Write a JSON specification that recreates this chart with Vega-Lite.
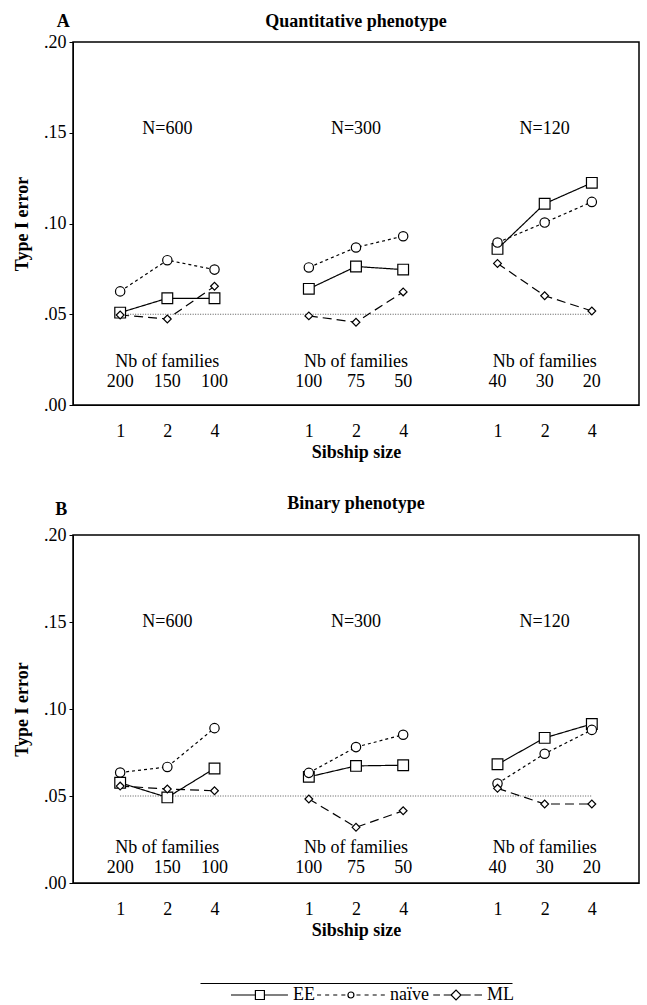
{
  "$schema": "https://vega.github.io/schema/vega-lite/v6.json",
  "padding": {"left": 12, "top": 12, "right": 0, "bottom": 0},
  "bounds": "flush",
  "center": true,
  "spacing": 130,
  "resolve": {"scale": {"x": "independent", "y": "independent", "shape": "independent", "size": "independent", "strokeDash": "independent"}},
  "config": {
    "font": "Liberation Serif",
    "view": {"stroke": "#000", "strokeWidth": 1.5},
    "axis": {"labelFont": "Liberation Serif", "titleFont": "Liberation Serif", "labelFontSize": 18, "titleFontSize": 18, "titleFontWeight": "bold", "labelColor": "#000", "titleColor": "#000", "domainColor": "#000", "tickColor": "#000", "grid": false}
  },
  "datasets": {
    "ptsA": [
      {"method": "EE", "n": 600, "slot": "600-1", "value": 0.0509},
      {"method": "EE", "n": 600, "slot": "600-2", "value": 0.0588},
      {"method": "EE", "n": 600, "slot": "600-4", "value": 0.0588},
      {"method": "EE", "n": 300, "slot": "300-1", "value": 0.064},
      {"method": "EE", "n": 300, "slot": "300-2", "value": 0.0763},
      {"method": "EE", "n": 300, "slot": "300-4", "value": 0.0746},
      {"method": "EE", "n": 120, "slot": "120-1", "value": 0.086},
      {"method": "EE", "n": 120, "slot": "120-2", "value": 0.1109},
      {"method": "EE", "n": 120, "slot": "120-4", "value": 0.1224},
      {"method": "naive", "n": 600, "slot": "600-1", "value": 0.0626},
      {"method": "naive", "n": 600, "slot": "600-2", "value": 0.0798},
      {"method": "naive", "n": 600, "slot": "600-4", "value": 0.0746},
      {"method": "naive", "n": 300, "slot": "300-1", "value": 0.0758},
      {"method": "naive", "n": 300, "slot": "300-2", "value": 0.0868},
      {"method": "naive", "n": 300, "slot": "300-4", "value": 0.093},
      {"method": "naive", "n": 120, "slot": "120-1", "value": 0.0895},
      {"method": "naive", "n": 120, "slot": "120-2", "value": 0.1005},
      {"method": "naive", "n": 120, "slot": "120-4", "value": 0.1119},
      {"method": "ML", "n": 600, "slot": "600-1", "value": 0.0496},
      {"method": "ML", "n": 600, "slot": "600-2", "value": 0.0474},
      {"method": "ML", "n": 600, "slot": "600-4", "value": 0.0654},
      {"method": "ML", "n": 300, "slot": "300-1", "value": 0.0491},
      {"method": "ML", "n": 300, "slot": "300-2", "value": 0.0456},
      {"method": "ML", "n": 300, "slot": "300-4", "value": 0.0623},
      {"method": "ML", "n": 120, "slot": "120-1", "value": 0.078},
      {"method": "ML", "n": 120, "slot": "120-2", "value": 0.0602},
      {"method": "ML", "n": 120, "slot": "120-4", "value": 0.0518}
    ],
    "ptsB": [
      {"method": "EE", "n": 600, "slot": "600-1", "value": 0.0576},
      {"method": "EE", "n": 600, "slot": "600-2", "value": 0.0492},
      {"method": "EE", "n": 600, "slot": "600-4", "value": 0.0658},
      {"method": "EE", "n": 300, "slot": "300-1", "value": 0.061},
      {"method": "EE", "n": 300, "slot": "300-2", "value": 0.0673},
      {"method": "EE", "n": 300, "slot": "300-4", "value": 0.0677},
      {"method": "EE", "n": 120, "slot": "120-1", "value": 0.0682},
      {"method": "EE", "n": 120, "slot": "120-2", "value": 0.0834},
      {"method": "EE", "n": 120, "slot": "120-4", "value": 0.0914},
      {"method": "naive", "n": 600, "slot": "600-1", "value": 0.0635},
      {"method": "naive", "n": 600, "slot": "600-2", "value": 0.0667},
      {"method": "naive", "n": 600, "slot": "600-4", "value": 0.089},
      {"method": "naive", "n": 300, "slot": "300-1", "value": 0.0633},
      {"method": "naive", "n": 300, "slot": "300-2", "value": 0.0781},
      {"method": "naive", "n": 300, "slot": "300-4", "value": 0.0852},
      {"method": "naive", "n": 120, "slot": "120-1", "value": 0.0572},
      {"method": "naive", "n": 120, "slot": "120-2", "value": 0.0743},
      {"method": "naive", "n": 120, "slot": "120-4", "value": 0.088},
      {"method": "ML", "n": 600, "slot": "600-1", "value": 0.0557},
      {"method": "ML", "n": 600, "slot": "600-2", "value": 0.054},
      {"method": "ML", "n": 600, "slot": "600-4", "value": 0.053},
      {"method": "ML", "n": 300, "slot": "300-1", "value": 0.0483},
      {"method": "ML", "n": 300, "slot": "300-2", "value": 0.032},
      {"method": "ML", "n": 300, "slot": "300-4", "value": 0.0415},
      {"method": "ML", "n": 120, "slot": "120-1", "value": 0.0544},
      {"method": "ML", "n": 120, "slot": "120-2", "value": 0.0454},
      {"method": "ML", "n": 120, "slot": "120-4", "value": 0.0454}
    ],
    "sampleSizes": [
      {"slot": "600-2", "label": "N=600"},
      {"slot": "300-2", "label": "N=300"},
      {"slot": "120-2", "label": "N=120"}
    ],
    "nbHeads": [
      {"slot": "600-2", "label": "Nb of families"},
      {"slot": "300-2", "label": "Nb of families"},
      {"slot": "120-2", "label": "Nb of families"}
    ],
    "counts": [
      {"slot": "600-1", "label": "200"},
      {"slot": "600-2", "label": "150"},
      {"slot": "600-4", "label": "100"},
      {"slot": "300-1", "label": "100"},
      {"slot": "300-2", "label": "75"},
      {"slot": "300-4", "label": "50"},
      {"slot": "120-1", "label": "40"},
      {"slot": "120-2", "label": "30"},
      {"slot": "120-4", "label": "20"}
    ],
    "letterA": [{"slot": "600-1", "label": "A"}],
    "titleA": [{"slot": "300-2", "label": "Quantitative phenotype"}],
    "letterB": [{"slot": "600-1", "label": "B"}],
    "titleB": [{"slot": "300-2", "label": "Binary phenotype"}],
    "legendItems": [
      {"method": "EE", "label": "EE"},
      {"method": "naive", "label": "naïve"},
      {"method": "ML", "label": "ML"}
    ]
  },
  "vconcat": [
    {
      "width": 566,
      "height": 363,
      "encoding": {
        "x": {"field": "slot", "type": "nominal",
          "scale": {"type": "point", "domain": ["600-1", "600-2", "600-4", "g1", "300-1", "300-2", "300-4", "g2", "120-1", "120-2", "120-4"], "padding": 1},
          "axis": {"title": "Sibship size", "values": ["600-1", "600-2", "600-4", "300-1", "300-2", "300-4", "120-1", "120-2", "120-4"], "labelExpr": "split(datum.value, '-')[1]", "ticks": false, "labelAngle": 0, "labelPadding": 17, "titlePadding": 3}}
      },
      "layer": [
        {"data": {"values": [{"ref": 0.05}]},
         "mark": {"type": "rule", "color": "#555", "strokeWidth": 1, "strokeDash": [1, 1.5]},
         "encoding": {"x": {"datum": "600-1", "type": "nominal"}, "x2": {"datum": "120-4"},
                      "y": {"field": "ref", "type": "quantitative", "scale": {"domain": [0, 0.2], "nice": false},
                            "axis": {"title": "Type I error", "values": [0, 0.05, 0.1, 0.15, 0.2], "labelExpr": "replace(format(datum.value, '.2f'), '0.', '.')", "tickSize": 4, "labelPadding": 3, "titlePadding": 12}}}},
        {"data": {"name": "ptsA"},
         "mark": {"type": "line", "color": "#000", "strokeWidth": 1.2},
         "encoding": {"y": {"field": "value", "type": "quantitative"},
                      "strokeDash": {"field": "method", "type": "nominal", "scale": {"domain": ["EE", "naive", "ML"], "range": [[1, 0], [3, 3], [9, 5]]}, "legend": null},
                      "detail": {"field": "n", "type": "nominal"}}},
        {"data": {"name": "ptsA"},
         "mark": {"type": "point", "filled": true, "fill": "#fff", "stroke": "#000", "strokeWidth": 1.2, "opacity": 1},
         "encoding": {"y": {"field": "value", "type": "quantitative"},
                      "shape": {"field": "method", "type": "nominal", "scale": {"domain": ["EE", "naive", "ML"], "range": ["square", "circle", "diamond"]}, "legend": null},
                      "size": {"field": "method", "type": "ordinal", "scale": {"domain": ["EE", "naive", "ML"], "range": [115, 60, 95]}, "legend": null}}},
        {"data": {"name": "sampleSizes"},
         "mark": {"type": "text", "baseline": "middle", "align": "center", "font": "Liberation Serif", "fontSize": 18, "fill": "#000"},
         "encoding": {"y": {"datum": 0.152, "type": "quantitative"}, "text": {"field": "label", "type": "nominal"}}},
        {"data": {"name": "nbHeads"},
         "mark": {"type": "text", "baseline": "middle", "align": "center", "font": "Liberation Serif", "fontSize": 18, "fill": "#000"},
         "encoding": {"y": {"datum": 0.0237, "type": "quantitative"}, "text": {"field": "label", "type": "nominal"}}},
        {"data": {"name": "counts"},
         "mark": {"type": "text", "baseline": "middle", "align": "center", "font": "Liberation Serif", "fontSize": 18, "fill": "#000"},
         "encoding": {"y": {"datum": 0.0127, "type": "quantitative"}, "text": {"field": "label", "type": "nominal"}}},
        {"data": {"name": "letterA"},
         "mark": {"type": "text", "baseline": "alphabetic", "align": "center", "font": "Liberation Serif", "fontSize": 18, "fontWeight": "bold", "fill": "#000", "dx": -57, "dy": -15},
         "encoding": {"y": {"datum": 0.2, "type": "quantitative"}, "text": {"field": "label", "type": "nominal"}}},
        {"data": {"name": "titleA"},
         "mark": {"type": "text", "baseline": "alphabetic", "align": "center", "font": "Liberation Serif", "fontSize": 18, "fontWeight": "bold", "fill": "#000", "dy": -15},
         "encoding": {"y": {"datum": 0.2, "type": "quantitative"}, "text": {"field": "label", "type": "nominal"}}}
      ]
    },
    {
      "width": 566,
      "height": 348,
      "encoding": {
        "x": {"field": "slot", "type": "nominal",
          "scale": {"type": "point", "domain": ["600-1", "600-2", "600-4", "g1", "300-1", "300-2", "300-4", "g2", "120-1", "120-2", "120-4"], "padding": 1},
          "axis": {"title": "Sibship size", "values": ["600-1", "600-2", "600-4", "300-1", "300-2", "300-4", "120-1", "120-2", "120-4"], "labelExpr": "split(datum.value, '-')[1]", "ticks": false, "labelAngle": 0, "labelPadding": 17, "titlePadding": 3}}
      },
      "layer": [
        {"data": {"values": [{"ref": 0.05}]},
         "mark": {"type": "rule", "color": "#555", "strokeWidth": 1, "strokeDash": [1, 1.5]},
         "encoding": {"x": {"datum": "600-1", "type": "nominal"}, "x2": {"datum": "120-4"},
                      "y": {"field": "ref", "type": "quantitative", "scale": {"domain": [0, 0.2], "nice": false},
                            "axis": {"title": "Type I error", "values": [0, 0.05, 0.1, 0.15, 0.2], "labelExpr": "replace(format(datum.value, '.2f'), '0.', '.')", "tickSize": 4, "labelPadding": 3, "titlePadding": 12}}}},
        {"data": {"name": "ptsB"},
         "mark": {"type": "line", "color": "#000", "strokeWidth": 1.2},
         "encoding": {"y": {"field": "value", "type": "quantitative"},
                      "strokeDash": {"field": "method", "type": "nominal", "scale": {"domain": ["EE", "naive", "ML"], "range": [[1, 0], [3, 3], [9, 5]]}, "legend": null},
                      "detail": {"field": "n", "type": "nominal"}}},
        {"data": {"name": "ptsB"},
         "mark": {"type": "point", "filled": true, "fill": "#fff", "stroke": "#000", "strokeWidth": 1.2, "opacity": 1},
         "encoding": {"y": {"field": "value", "type": "quantitative"},
                      "shape": {"field": "method", "type": "nominal", "scale": {"domain": ["EE", "naive", "ML"], "range": ["square", "circle", "diamond"]}, "legend": null},
                      "size": {"field": "method", "type": "ordinal", "scale": {"domain": ["EE", "naive", "ML"], "range": [115, 60, 95]}, "legend": null}}},
        {"data": {"name": "sampleSizes"},
         "mark": {"type": "text", "baseline": "middle", "align": "center", "font": "Liberation Serif", "fontSize": 18, "fill": "#000"},
         "encoding": {"y": {"datum": 0.15, "type": "quantitative"}, "text": {"field": "label", "type": "nominal"}}},
        {"data": {"name": "nbHeads"},
         "mark": {"type": "text", "baseline": "middle", "align": "center", "font": "Liberation Serif", "fontSize": 18, "fill": "#000"},
         "encoding": {"y": {"datum": 0.0201, "type": "quantitative"}, "text": {"field": "label", "type": "nominal"}}},
        {"data": {"name": "counts"},
         "mark": {"type": "text", "baseline": "middle", "align": "center", "font": "Liberation Serif", "fontSize": 18, "fill": "#000"},
         "encoding": {"y": {"datum": 0.0086, "type": "quantitative"}, "text": {"field": "label", "type": "nominal"}}},
        {"data": {"name": "letterB"},
         "mark": {"type": "text", "baseline": "alphabetic", "align": "center", "font": "Liberation Serif", "fontSize": 18, "fontWeight": "bold", "fill": "#000", "dx": -59, "dy": -20},
         "encoding": {"y": {"datum": 0.2, "type": "quantitative"}, "text": {"field": "label", "type": "nominal"}}},
        {"data": {"name": "titleB"},
         "mark": {"type": "text", "baseline": "alphabetic", "align": "center", "font": "Liberation Serif", "fontSize": 18, "fontWeight": "bold", "fill": "#000", "dy": -26},
         "encoding": {"y": {"datum": 0.2, "type": "quantitative"}, "text": {"field": "label", "type": "nominal"}}}
      ]
    },
    {
      "width": 312,
      "height": 10,
      "view": {"stroke": null},
      "data": {"name": "legendItems"},
      "encoding": {
        "x": {"field": "method", "type": "nominal",
          "scale": {"type": "point", "domain": ["EE", "naive", "ML"], "padding": 0.608, "align": 0.771},
          "axis": {"orient": "top", "title": null, "labels": false, "ticks": false, "domain": true, "domainColor": "#000", "domainWidth": 1, "offset": 30}},
        "y": {"datum": 2.8, "type": "quantitative", "scale": {"domain": [0, 1]}, "axis": null}
      },
      "layer": [
        {"mark": {"type": "point", "filled": true, "fill": "#fff", "stroke": "#000", "strokeWidth": 1.2, "opacity": 1, "size": 900},
         "encoding": {"shape": {"field": "method", "type": "nominal", "legend": null,
           "scale": {"domain": ["EE", "naive", "ML"], "range": [
             "M-4,0H-2.37M-1.77,0H-0.2M-2.37,-0.3H-1.77V0.3H-2.37Z",
             "M-4.73,0H-4.46M-4.19,0H-3.92M-3.65,0H-3.38M-3.11,0H-2.84M-2.1,0H-1.83M-1.56,0H-1.29M-1.02,0H-0.75M-0.48,0H-0.21M-2.27,0A0.2,0.2 0 1,1 -2.67,0A0.2,0.2 0 1,1 -2.27,0Z",
             "M-3.45,0H-3.0M-2.75,0H-2.26M-1.6,0H-0.95M-0.7,0H-0.2M-2.26,0L-1.93,-0.33L-1.6,0L-1.93,0.33Z"
           ]}}}},
        {"mark": {"type": "text", "align": "left", "baseline": "middle", "dx": 2, "font": "Liberation Serif", "fontSize": 18, "fill": "#000"},
         "encoding": {"text": {"field": "label", "type": "nominal"}}}
      ]
    }
  ]
}
